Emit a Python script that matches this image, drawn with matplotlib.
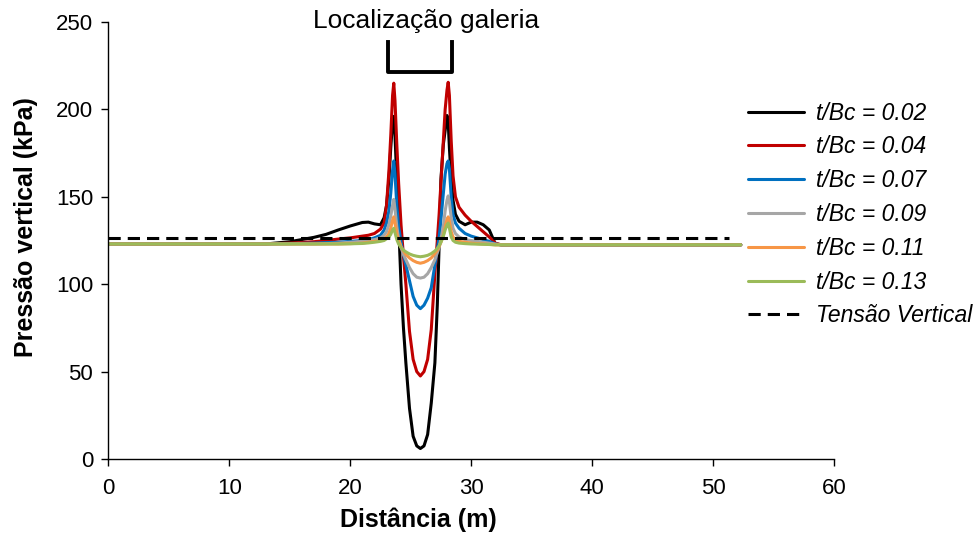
import matplotlib
matplotlib.use("Agg")
import matplotlib.pyplot as plt

plt.rcParams["font.family"] = ["Liberation Sans", "DejaVu Sans"]

# distância ao longo da seção (m)
dist = [0, 5, 10, 13, 15, 17, 18, 19, 20, 21,
        21.5, 22, 22.5, 22.8, 23.0, 23.2, 23.35, 23.5, 23.6, 23.7,
        23.85, 24.0, 24.2, 24.4, 24.6, 24.9, 25.2, 25.5, 25.8, 26.1,
        26.4, 26.7, 27.0, 27.2, 27.35, 27.5, 27.7, 27.85, 28.0, 28.1,
        28.2, 28.35, 28.5, 28.7, 29.0, 29.5, 30.0, 30.5, 31.0, 31.5,
        32.0, 32.5, 33.5, 35, 40, 45, 52.3]

# pressão vertical (kPa) para cada t/Bc
p_002 = [123, 123, 123, 123, 124.3, 126.8, 128.5, 131, 133.3, 135.3,
         135.5, 134.5, 134, 138, 145, 160, 178, 193, 196, 185,
         160, 135, 100, 75, 55, 29, 13, 7.5, 6, 7.5,
         14, 32, 55, 88, 122, 160, 180, 188, 196.5, 193,
         178, 160, 148, 140, 136, 134, 135.5, 135.5, 134, 131,
         123, 122.5, 122.5, 122.5, 122.5, 122.5, 122.5]
p_004 = [123, 123, 123, 123, 123.5, 124.3, 125, 125.8, 126.5, 127.5,
         128, 129, 131.5, 135, 145, 165, 185, 208, 215, 205,
         180, 158, 134, 116, 100, 73, 57, 50, 47.5, 50,
         57, 74, 106, 125, 140, 158, 182, 200, 211, 215.5,
         208, 182, 162, 150, 144, 139.5, 136, 133, 130, 127,
         123.5, 122.5, 122.5, 122.5, 122.5, 122.5, 122.5]
p_007 = [123, 123, 123, 123, 123.2, 123.5, 123.8, 124, 124.5, 125,
         125.5, 126.5, 128, 131, 135, 142, 152, 165, 170.5, 163,
         145, 133, 124, 117, 111, 102, 93, 88, 86, 88,
         92, 98, 111, 120, 127, 137, 152, 163, 169, 170.5,
         166, 150, 140, 135, 132, 129, 127.5, 126.5, 125.5, 124.5,
         123, 122.5, 122.5, 122.5, 122.5, 122.5, 122.5]
p_009 = [123, 123, 123, 123, 123, 123, 123.2, 123.5, 124, 124.5,
         125, 125.5, 126.5, 128, 130, 134, 139, 145, 148.5, 143,
         133, 126, 121, 117, 114, 109.5, 106, 104, 103.5, 104,
         106, 109.5, 114, 118, 121, 126, 133, 142, 148, 150.5,
         147, 138, 132, 129, 127, 125.5, 125, 124.5, 124, 123.5,
         123, 122.5, 122.5, 122.5, 122.5, 122.5, 122.5]
p_011 = [123, 123, 123, 123, 123, 123, 123, 123, 123.2, 123.5,
         124, 124.5, 125, 126, 127, 129, 132, 136.5, 138.5, 135,
         129, 125, 121.5, 119, 117, 115, 113.5, 112.5, 112, 112.5,
         113.5, 115, 117.5, 119.5, 121.5, 124, 128, 133, 137, 138.5,
         136, 130, 127, 125.5, 124.5, 124, 123.5, 123.2, 123, 122.8,
         122.5, 122.5, 122.5, 122.5, 122.5, 122.5, 122.5]
p_013 = [123, 123, 123, 123, 123, 123, 123, 123, 123.1, 123.3,
         123.6, 124, 124.5, 125, 126, 127, 128.5, 131, 132, 129.5,
         125.5, 123, 121, 119.5, 118.5, 117.3, 116.5, 116, 115.7, 116,
         116.5, 117.5, 119, 120.5, 122, 124, 127.5, 131, 134, 135,
         132, 127, 125, 124, 123.5, 123.2, 123, 122.9, 122.8, 122.7,
         122.5, 122.5, 122.5, 122.5, 122.5, 122.5, 122.5]

labels = ["t/Bc = 0.02", "t/Bc = 0.04", "t/Bc = 0.07",
          "t/Bc = 0.09", "t/Bc = 0.11", "t/Bc = 0.13"]
colors = ["#000000", "#C00000", "#0070C0", "#A6A6A6", "#F79646", "#9BBB59"]
series = [p_002, p_004, p_007, p_009, p_011, p_013]

# tensão vertical geostática
tensao_x = [0, 51.3]
tensao_y = [126.4, 126.4]

# posição da galeria (m) e altura do colchete (kPa)
galeria_x = [23.1, 28.4]
galeria_y = [221.4, 238.6]

fig = plt.figure(figsize=(9.77, 5.40), dpi=100)
ax = fig.add_axes([0.111, 0.15, 0.7425, 0.8093])

for ys, c, lab in zip(series, colors, labels):
    ax.plot(dist, ys, color=c, lw=2.2, label=lab, solid_capstyle="round")
ax.plot(tensao_x, tensao_y, color="black", lw=2.2, dashes=(4, 2.3),
        label="Tensão Vertical")

# colchete indicando a galeria
ax.plot([galeria_x[0], galeria_x[0], galeria_x[1], galeria_x[1]],
        [galeria_y[1], galeria_y[0], galeria_y[0], galeria_y[1]],
        color="black", lw=2.8, clip_on=False)
ax.text(26.25, 250.5, "Localização galeria", ha="center", va="center",
        fontsize=19, clip_on=False)

ax.set_xlim(0, 60)
ax.set_ylim(0, 250)
ax.set_xticks(range(0, 61, 10))
ax.set_yticks(range(0, 251, 50))
for s in ["top", "right"]:
    ax.spines[s].set_visible(False)
for s in ["left", "bottom"]:
    ax.spines[s].set_linewidth(1.0)
ax.tick_params(direction="out", length=5, width=1.0, labelsize=16)
ax.tick_params(axis="x", pad=9)
ax.tick_params(axis="y", pad=6)

ax.set_xlabel("Distância (m)", fontsize=18, fontweight="bold")
ax.xaxis.set_label_coords(0.4266, -0.11)
ax.set_ylabel("Pressão vertical (kPa)", fontsize=18, fontweight="bold")
ax.yaxis.set_label_coords(-0.097, 0.531)

leg = fig.legend(loc="center left", bbox_to_anchor=(748 / 977, 1 - 214.5 / 540),
                 frameon=False, fontsize=16.5, handlelength=2.45,
                 handletextpad=0.5, labelspacing=0.47, borderpad=0,
                 borderaxespad=0)
for t in leg.get_texts():
    t.set_fontstyle("italic")

fig.savefig("out.png", dpi=100)
